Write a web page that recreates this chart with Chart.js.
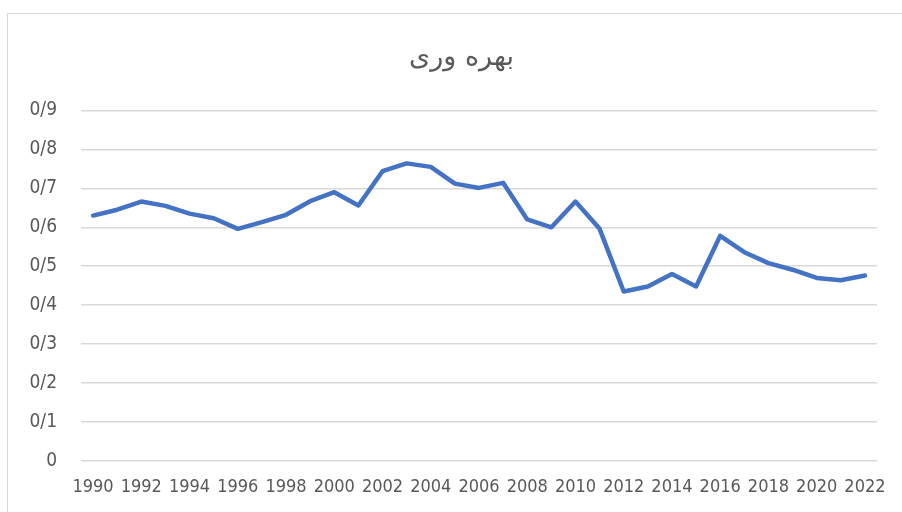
<!DOCTYPE html>
<html>
<head>
<meta charset="utf-8">
<script src="https://cdn.jsdelivr.net/npm/chart.js@4"></script>
<style>
  html, body { margin: 0; padding: 0; background: #fff; overflow: hidden; width: 902px; height: 512px; }
  #frame { position: absolute; left: 7px; top: 13px; width: 930px; height: 530px; border: 1px solid #d9d9d9; box-sizing: border-box; }
  #wrap { position: absolute; left: 0; top: 0; width: 923px; height: 512px; }
</style>
</head>
<body>
<div id="frame"></div>
<div id="wrap"><canvas id="chart"></canvas></div>
<script>
// years on the x axis
const years = [1990, 1991, 1992, 1993, 1994, 1995, 1996, 1997, 1998, 1999, 2000,
  2001, 2002, 2003, 2004, 2005, 2006, 2007, 2008, 2009, 2010,
  2011, 2012, 2013, 2014, 2015, 2016, 2017, 2018, 2019, 2020, 2021, 2022];

// productivity values
const productivity = [0.630, 0.645, 0.666, 0.655, 0.635, 0.623, 0.596, 0.613, 0.632, 0.667, 0.690,
  0.656, 0.744, 0.764, 0.755, 0.712, 0.701, 0.714, 0.620, 0.600, 0.666,
  0.596, 0.435, 0.448, 0.480, 0.448, 0.578, 0.536, 0.508, 0.491, 0.470, 0.464, 0.476];

// y tick labels as written in the original (Persian decimal separator)
const yTickLabels = ['0', '0/1', '0/2', '0/3', '0/4', '0/5', '0/6', '0/7', '0/8', '0/9'];

const chartTitle = 'بهره وری';

const textColor = '#595959';
const labelFont = { family: '"DejaVu Sans Condensed", "Liberation Sans Narrow", sans-serif', size: 18 };

function initializeChart() {
    const ctx = document.getElementById('chart').getContext('2d');

    new Chart(ctx, {
        type: 'line',
        data: {
            labels: years.map(String),
            datasets: [{
                label: chartTitle,
                data: productivity,
                borderColor: '#4472C4',
                backgroundColor: '#4472C4',
                borderWidth: 4.5,
                pointRadius: 0,
                tension: 0,
                borderJoinStyle: 'round',
                borderCapStyle: 'round'
            }]
        },
        options: {
            responsive: true,
            maintainAspectRatio: false,
            animation: false,
            layout: { padding: 0 },
            plugins: {
                legend: { display: false },
                tooltip: { enabled: false },
                title: {
                    display: true,
                    text: chartTitle,
                    color: textColor,
                    font: { family: '"DejaVu Sans", sans-serif', size: 27, weight: 'normal' },
                    padding: { top: 42, bottom: 36 }
                }
            },
            scales: {
                x: {
                    offset: true,
                    grid: { display: false, drawTicks: false },
                    border: { display: false },
                    ticks: {
                        autoSkip: false,
                        maxRotation: 0,
                        padding: 16,
                        color: textColor,
                        font: labelFont,
                        callback: (value, index) => index % 2 === 0 ? years[index] : ''
                    },
                    afterFit: scale => { scale.height = 51; }
                },
                y: {
                    min: 0,
                    max: 0.9,
                    grid: { color: '#d9d9d9', lineWidth: 1.5, drawTicks: false },
                    border: { display: false },
                    ticks: {
                        stepSize: 0.1,
                        padding: 24,
                        color: textColor,
                        font: { family: labelFont.family, size: 19 },
                        callback: (value, index) => yTickLabels[index]
                    },
                    afterFit: scale => { scale.width = 81; }
                },
                // empty right-hand spacer so the title stays centred on the whole frame
                spacer: {
                    type: 'linear',
                    position: 'right',
                    grid: { display: false, drawTicks: false },
                    border: { display: false },
                    ticks: { display: false },
                    afterFit: scale => { scale.width = 46; }
                }
            }
        }
    });
}

document.addEventListener('DOMContentLoaded', initializeChart);
</script>
</body>
</html>
